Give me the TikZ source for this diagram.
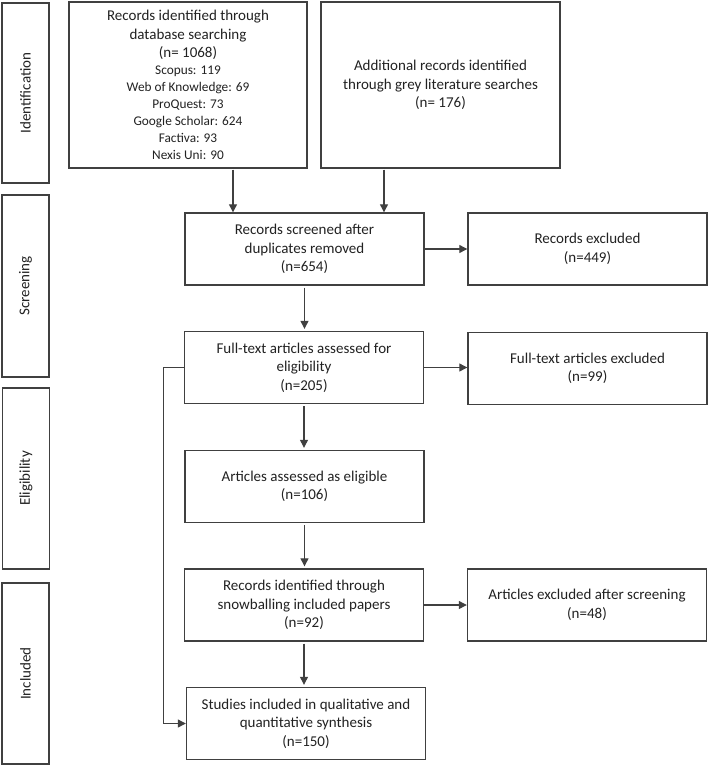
\documentclass[tikz,border=0pt]{standalone}
\usepackage{fontspec}
\setmainfont{Carlito}
\usetikzlibrary{arrows.meta,calc}
\definecolor{lc}{HTML}{404040}
\definecolor{tc}{HTML}{222222}
\newcommand{\smf}{\fontsize{13.3}{16.2}\selectfont}
\begin{document}
\begin{tikzpicture}[x=1pt,y=-1pt,
  box/.style={draw=lc, line width=1.4pt, minimum width=239pt, minimum height=72pt, align=center, inner sep=0pt, font=\fontsize{15}{18.5}\selectfont, text=tc},
  side/.style={draw=lc, line width=1.4pt, rotate=90, minimum height=47pt, inner sep=0pt, font=\fontsize{15}{18}\selectfont, text=tc},
  arr/.style={draw=lc, line width=1.2pt, -{Triangle[length=8pt,width=8pt]}},
  vgap/.style={shorten >=2pt, shorten <=2pt}]
\fill[white] (0,0) rectangle (708,766);
\useasboundingbox (0,0) rectangle (708,766);
% phase labels
\node[side, minimum width=180pt] (idS) at (25.5,93) {Identification};
\node[side, minimum width=182pt] (scrS) at (25.5,286) {Screening};
\node[side, minimum width=181pt] (eliS) at (26,478.5) {Eligibility};
\node[side, minimum width=181pt] (incS) at (25.5,673.5) {Included};
% boxes
\node[box, minimum width=238pt, minimum height=166pt] (rec) at (188,85)
  {Records identified through\\database searching\\(n= 1068)\\[-1.5pt]
   \smf Scopus: 119\\[-1.5pt] \smf Web of Knowledge: 69\\[-1.5pt] \smf ProQuest: 73\\[-1.5pt] \smf Google Scholar: 624\\[-1.5pt] \smf Factiva: 93\\[-1.5pt] \smf Nexis Uni: 90};
\node[box, minimum height=166pt] (add) at (440.5,85) {Additional records identified\\through grey literature searches\\(n= 176)};
\node[box] (scr) at (304.5,249) {Records screened after\\duplicates removed\\(n=654)};
\node[box] (rex) at (587.5,249) {Records excluded\\(n=449)};
\node[box] (ft) at (304,367.5) {Full-text articles assessed for\\eligibility\\(n=205)};
\node[box] (fex) at (587.5,368.5) {Full-text articles excluded\\(n=99)};
\node[box] (eli) at (304.5,486.5) {Articles assessed as eligible\\(n=106)};
\node[box] (snow) at (304,605) {Records identified through\\snowballing included papers\\(n=92)};
\node[box] (aex) at (587,605) {Articles excluded after screening\\(n=48)};
\node[box] (stu) at (306,723.5) {Studies included in qualitative and\\quantitative synthesis\\(n=150)};
% connectors
\coordinate (c1) at (233,0);
\coordinate (c2) at (384,0);
\draw[arr, shorten <=1pt] (rec.south -| c1) -- (scr.north -| c1);
\draw[arr, shorten <=1pt] (add.south -| c2) -- (scr.north -| c2);
\draw[arr] (scr.east) -- (scr.east -| rex.west);
\draw[arr, vgap] (scr.south) -- (scr.south |- ft.north);
\draw[arr] (ft.east) -- (ft.east -| fex.west);
\draw[arr, vgap] (ft.south) -- (ft.south |- eli.north);
\draw[arr, vgap] (eli.south) -- (eli.south |- snow.north);
\draw[arr] (snow.east) -- (snow.east -| aex.west);
\draw[arr, vgap] (snow.south) -- (snow.south |- stu.north);
\draw[arr] (ft.west) -- ++(-20,0) |- (stu.west);
\end{tikzpicture}
\end{document}
